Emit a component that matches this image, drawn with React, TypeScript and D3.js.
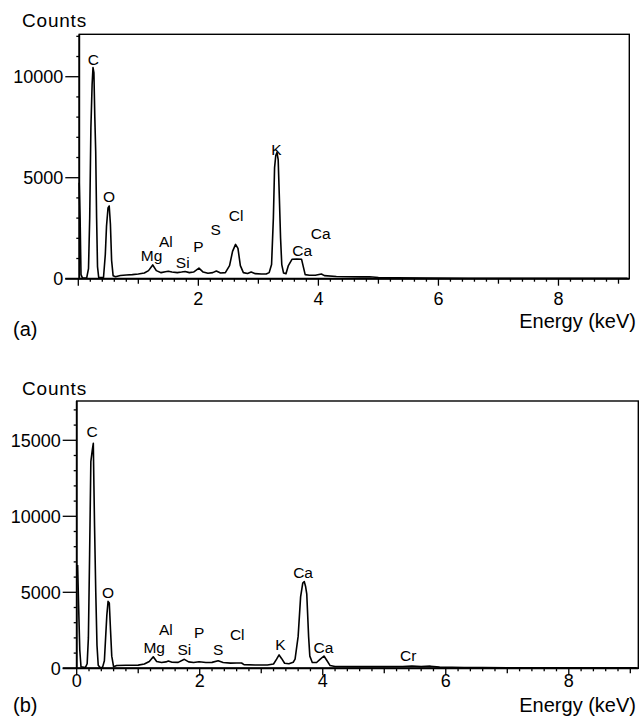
import React from "react";
import * as d3 from "d3";

// spectrum (a): energy in keV, counts
const energyA = [0.015, 0.03, 0.045, 0.07, 0.14, 0.17, 0.19, 0.21, 0.23, 0.245, 0.26, 0.275, 0.29, 0.305, 0.32, 0.34, 0.42, 0.45, 0.47, 0.495, 0.515, 0.535, 0.555, 0.58, 0.62, 0.7, 0.8, 0.9, 1.0, 1.1, 1.17, 1.24, 1.3, 1.38, 1.45, 1.5, 1.56, 1.65, 1.72, 1.78, 1.85, 1.92, 2.01, 2.08, 2.16, 2.24, 2.3, 2.37, 2.45, 2.52, 2.57, 2.62, 2.66, 2.7, 2.75, 2.82, 2.88, 2.95, 3.05, 3.13, 3.18, 3.22, 3.25, 3.27, 3.29, 3.31, 3.33, 3.35, 3.37, 3.39, 3.42, 3.46, 3.5, 3.56, 3.64, 3.72, 3.78, 3.85, 3.95, 4.05, 4.1, 4.3, 4.5, 4.7, 4.85, 5.0, 5.3, 5.8, 6.5, 7.5, 8.5, 9.15];
const countsA = [4750, 3000, 200, 30, 40, 500, 3000, 7500, 9600, 10450, 10200, 8000, 6300, 3000, 600, 60, 60, 1200, 2600, 3500, 3600, 2700, 900, 150, 100, 160, 180, 200, 230, 280, 400, 680, 400, 300, 340, 370, 330, 300, 330, 360, 300, 330, 520, 330, 270, 300, 380, 280, 300, 650, 1350, 1700, 1500, 650, 300, 260, 330, 250, 230, 230, 300, 700, 3000, 5500, 6100, 6250, 5900, 4000, 2000, 700, 280, 250, 650, 960, 970, 960, 200, 170, 170, 230, 150, 110, 100, 90, 100, 60, 40, 30, 20, 20, 20, 20];

// spectrum (b)
const energyB = [0.015, 0.03, 0.05, 0.07, 0.14, 0.17, 0.19, 0.21, 0.23, 0.255, 0.27, 0.28, 0.29, 0.31, 0.33, 0.35, 0.38, 0.42, 0.45, 0.47, 0.49, 0.51, 0.53, 0.55, 0.57, 0.6, 0.65, 0.8, 1.0, 1.1, 1.18, 1.245, 1.3, 1.38, 1.45, 1.49, 1.55, 1.65, 1.75, 1.82, 1.9, 1.99, 2.1, 2.2, 2.3, 2.38, 2.5, 2.6, 2.68, 2.72, 2.9, 3.1, 3.2, 3.25, 3.29, 3.33, 3.38, 3.45, 3.52, 3.55, 3.6, 3.64, 3.675, 3.7, 3.72, 3.74, 3.77, 3.79, 3.83, 3.9, 3.96, 4.02, 4.07, 4.12, 4.2, 4.5, 5.0, 5.3, 5.45, 5.6, 5.75, 5.9, 6.3, 6.6, 7.0, 8.0, 9.1];
const countsB = [6800, 4300, 1200, 100, 50, 300, 2000, 7500, 13600, 14400, 14800, 12000, 9400, 5000, 1500, 200, 50, 60, 500, 2000, 3500, 4400, 4300, 2500, 800, 100, 180, 200, 210, 280, 450, 760, 450, 380, 420, 480, 400, 390, 590, 420, 380, 430, 380, 390, 500, 380, 340, 350, 350, 240, 220, 220, 280, 600, 880, 650, 330, 300, 400, 600, 2100, 4700, 5600, 5700, 5400, 4900, 2100, 800, 380, 380, 600, 810, 500, 180, 120, 110, 110, 120, 150, 110, 140, 80, 50, 50, 30, 30, 30];

// peak labels: element, energy, baseline counts
const labelsA = ["C", "O", "Mg", "Al", "Si", "P", "S", "Cl", "K", "Ca", "Ca"];
const labelEnergyA = [0.25, 0.51, 1.22, 1.46, 1.74, 2.0, 2.29, 2.63, 3.3, 3.73, 4.04];
const labelCountsA = [10580, 3810, 876, 1584, 530, 1322, 2163, 2856, 6123, 1124, 1965];

const labelsB = ["C", "O", "Mg", "Al", "Si", "P", "S", "Cl", "K", "Ca", "Ca", "Cr"];
const labelEnergyB = [0.25, 0.51, 1.26, 1.45, 1.75, 1.99, 2.3, 2.61, 3.31, 3.68, 4.01, 5.39];
const labelCountsB = [15240, 4600, 990, 2190, 875, 2015, 875, 1860, 1200, 5920, 1030, 500];

const xTickLabelsA = [2, 4, 6, 8];
const xTickLabelsB = [0, 2, 4, 6, 8];
const yTickLabelsA = [0, 5000, 10000];
const yTickLabelsB = [0, 5000, 10000, 15000];

const FONT = "'Liberation Sans', Arial, Helvetica, sans-serif";

type PanelProps = {
  energy: number[];
  counts: number[];
  labels: string[];
  labelEnergy: number[];
  labelCounts: number[];
  xTicks: number[];
  yTicks: number[];
  xDomain: [number, number];
  xRange: [number, number];
  yMax: number;
  yMinorMax: number;
  top: number;
  bottom: number;
  frameLeft: number;
  xLabelY: number;
  tag: string;
  tagY: number;
  countsY: number;
  energyY: number;
};

function Panel(p: PanelProps) {
  const x = d3.scaleLinear().domain(p.xDomain).range(p.xRange);
  const y = d3.scaleLinear().domain([0, p.yMax]).range([p.bottom, p.top]);
  const right = p.xRange[1];
  const pts = p.energy.map((e, i) => [e, p.counts[i]] as [number, number]);
  const line = d3
    .line<[number, number]>()
    .x((d) => x(d[0]))
    .y((d) => y(d[1]));
  const xMinor = d3.range(0, 46).map((i) => i * 0.2);
  const yMinor = d3.range(0, p.yMinorMax + 1, 1000);

  return (
    <g fontFamily={FONT} fill="#000">
      <rect x={p.frameLeft} y={p.top} width={right - p.frameLeft} height={p.bottom - p.top} fill="none" stroke="#000" strokeWidth={1.4} />
      <line x1={p.frameLeft} x2={p.frameLeft} y1={p.top} y2={p.bottom} stroke="#000" strokeWidth={1.8} />
      <line x1={p.frameLeft - 14} x2={right} y1={p.bottom} y2={p.bottom} stroke="#000" strokeWidth={2} />
      {xMinor.map((t) => {
        const k = Math.round(t * 5);
        const len = k % 10 === 0 ? 7 : k % 5 === 0 ? 5 : 3;
        if (x(t) < p.frameLeft - 0.5 && k !== 0) return null;
        return <line key={"xt" + k} x1={x(t)} x2={x(t)} y1={p.bottom} y2={p.bottom + len} stroke="#000" strokeWidth={1.3} />;
      })}
      {p.xTicks.map((t) => (
        <text key={"xl" + t} x={x(t)} y={p.xLabelY} fontSize={18} textAnchor="middle">
          {t}
        </text>
      ))}
      {yMinor.map((t) => {
        const major = t % 5000 === 0;
        return <line key={"yt" + t} x1={p.frameLeft - (major ? 14 : 3)} x2={p.frameLeft} y1={y(t)} y2={y(t)} stroke="#000" strokeWidth={1.3} />;
      })}
      {p.yTicks.map((t) => (
        <text key={"yl" + t} x={p.frameLeft - 16} y={y(t)} dy="0.36em" fontSize={18} textAnchor="end">
          {t}
        </text>
      ))}
      <path d={line(pts) ?? ""} fill="none" stroke="#000" strokeWidth={1.6} strokeLinejoin="round" />
      {p.labels.map((l, i) => (
        <text key={"pl" + i} x={x(p.labelEnergy[i])} y={y(p.labelCounts[i])} fontSize={15.5} textAnchor="middle">
          {l}
        </text>
      ))}
      <text x={22} y={p.countsY} fontSize={19} letterSpacing={0.8}>
        Counts
      </text>
      <text x={636} y={p.energyY} fontSize={20} textAnchor="end">
        Energy (keV)
      </text>
      <text x={13} y={p.tagY} fontSize={20}>
        {p.tag}
      </text>
    </g>
  );
}

export default function App() {
  return (
    <svg width={641} height={717} style={{ position: "absolute", left: 0, top: 0, background: "#fff" }}>
      <Panel
        energy={energyA}
        counts={countsA}
        labels={labelsA}
        labelEnergy={labelEnergyA}
        labelCounts={labelCountsA}
        xTicks={xTickLabelsA}
        yTicks={yTickLabelsA}
        xDomain={[0, 9.18]}
        xRange={[78.3, 629.3]}
        yMax={12100}
        yMinorMax={12000}
        top={34.3}
        bottom={278.7}
        frameLeft={79.3}
        xLabelY={305}
        tag="(a)"
        tagY={336}
        countsY={26.7}
        energyY={328}
      />
      <Panel
        energy={energyB}
        counts={countsB}
        labels={labelsB}
        labelEnergy={labelEnergyB}
        labelCounts={labelCountsB}
        xTicks={xTickLabelsB}
        yTicks={yTickLabelsB}
        xDomain={[0, 9.13]}
        xRange={[76.7, 638.3]}
        yMax={17585}
        yMinorMax={17000}
        top={401}
        bottom={668.3}
        frameLeft={76.7}
        xLabelY={687}
        tag="(b)"
        tagY={712}
        countsY={395}
        energyY={712}
      />
    </svg>
  );
}
